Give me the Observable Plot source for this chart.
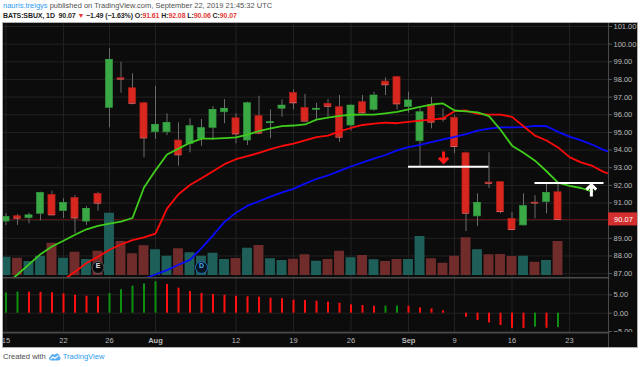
<!DOCTYPE html>
<html><head><meta charset="utf-8">
<script src="https://cdn.jsdelivr.net/npm/d3@7"></script>
<script src="https://cdn.jsdelivr.net/npm/@observablehq/plot@0.6"></script>
<style>
html,body{margin:0;padding:0}
body{width:640px;height:367px;overflow:hidden;background:#fff;position:relative;font-family:"Liberation Sans",Arial,sans-serif}
.hdr{position:absolute;left:3px;white-space:nowrap;line-height:10px}
#h1{top:1px;font-size:7.5px;color:#505050}
#h2{top:10.5px;font-size:7px;font-weight:bold;letter-spacing:-0.1px;color:#1e1e1e}
.blue{color:#2e9bf0}
.red{color:#e53935}
#frame{position:absolute;left:2px;top:22px;width:634px;height:324px;background:#0c0c0c;border:1px solid #b0b0b0}
.layer{position:absolute;left:0;top:0}
.layer svg{position:absolute;left:0;top:0}
#foot{position:absolute;left:3px;top:352px;font-size:7.6px;color:#4a4a4a;white-space:nowrap;display:flex;align-items:center;gap:2px}
</style></head><body>
<div id="h1" class="hdr"></div>
<div id="h2" class="hdr"></div>
<div id="frame">
 <div id="main" class="layer" style="width:634px;height:254px"></div>
 <div id="ind" class="layer" style="top:254px;width:634px;height:55px"></div>
 <div id="dax" class="layer" style="top:309px;width:634px;height:15px"></div>
</div>
<div id="foot">Created with <svg width="13" height="9" viewBox="0 0 13 9"><path d="M3 8.5 C0.5 8.5 0.2 5 2.6 4.6 C2.8 2 5.6 1.2 6.8 3 C7.8 0.6 11.6 1.2 11.3 4.2 C13.2 4.8 12.8 8.5 10.6 8.5 Z" fill="#5aaef2"/><path d="M2.5 7.2 L5 5 L7 6.3 L10.5 3.6" stroke="#fff" stroke-width="1.1" fill="none"/></svg><span class="blue">TradingView</span></div>
<script>
// ---------- data ----------
const author = "nauris.treigys";
const published = "September 22, 2019 21:45:32 UTC";
const symbol = "BATS:SBUX";
const interval = "1D";

// trading days 15 Jul 2019 .. 20 Sep 2019 (index 0..48)
const open  = [89.95,90.25,90.14,90.39,91.46,90.54,91.29,89.95,91.52,96.39,98.07,97.50,96.65,95.01,95.01,94.54,94.35,94.64,95.26,96.14,95.80,94.54,95.92,95.52,96.34,97.24,96.39,96.28,96.62,96.43,95.39,96.71,96.28,97.88,98.13,96.43,94.50,96.56,95.79,95.83,93.82,90.24,92.16,92.18,90.10,89.73,91.02,91.05,91.61];
const high  = [90.40,90.35,90.42,91.61,91.67,91.25,91.42,90.80,91.61,99.74,98.98,98.32,96.70,97.60,96.05,95.54,95.77,95.73,96.47,96.86,96.05,96.71,97.05,96.28,96.85,97.41,97.15,96.65,96.86,97.09,96.55,97.09,97.28,98.09,98.15,97.28,96.34,96.99,96.34,95.96,93.88,91.52,93.85,92.20,90.48,91.52,91.42,92.14,92.08];
const low   = [89.73,89.73,89.82,90.00,90.29,90.12,89.27,89.73,90.54,95.26,97.22,96.56,93.56,94.60,94.82,93.09,93.84,94.22,94.54,95.49,94.35,94.26,94.90,94.64,95.86,96.28,95.60,95.71,95.86,94.44,95.07,96.05,96.20,97.09,96.28,96.09,93.03,95.20,95.58,93.79,89.38,89.67,91.82,90.39,89.48,89.70,90.10,90.39,90.06];
const close = [90.20,90.14,90.30,91.56,90.33,91.00,90.16,90.67,90.99,99.11,98.02,96.65,94.69,95.43,95.54,93.73,95.35,95.24,96.28,96.34,94.92,96.65,94.96,95.58,96.52,96.68,95.64,96.34,96.48,94.73,96.52,96.11,97.09,97.70,96.62,96.81,96.14,95.58,95.76,94.20,90.42,91.01,92.12,90.52,89.50,90.82,91.00,91.56,90.07];
const volumeM = [7.3,6.9,5.6,7.7,12.9,6.9,9.3,6.4,9.7,24.9,13.6,8.7,11.9,10.3,7.7,10.7,9.1,7.7,8.9,6.4,6.8,10.9,12.0,6.7,6.0,6.5,8.3,5.7,6.4,9.7,7.1,8.0,6.3,5.6,6.4,6.4,15.6,6.7,4.9,7.7,15.1,10.3,8.3,8.4,7.6,7.7,5.3,6.0,13.6];

// displaced moving averages (start index, values)
const dmaGreenStart = 0;
const dmaGreen = [86.40,86.95,87.52,88.10,88.54,88.86,89.20,89.51,89.70,89.83,89.94,90.15,91.88,92.85,93.75,94.08,94.41,94.65,94.65,94.68,94.72,94.88,95.07,95.23,95.36,95.39,95.45,95.72,95.84,95.94,96.00,96.01,96.01,96.08,96.16,96.30,96.44,96.58,96.64,96.24,96.19,96.14,95.92,95.15,94.25,93.85,93.40,92.80,92.15,91.97,91.85,91.65];
const dmaRedStart = 5;
const dmaRed = [86.65,87.10,87.60,87.95,88.35,88.65,88.90,89.05,89.27,90.68,91.50,92.02,92.40,92.80,93.20,93.48,93.66,93.84,94.05,94.23,94.37,94.55,94.73,94.82,95.06,95.25,95.42,95.50,95.55,95.52,95.60,95.67,95.72,95.80,96.20,96.24,96.05,96.01,96.01,95.88,95.35,94.82,94.54,94.15,93.60,93.30,93.10,92.75,92.55];
const dmaBlueStart = 12;
const dmaBlue = [86.70,86.95,87.20,87.50,87.78,88.45,89.17,89.93,90.45,90.85,91.10,91.36,91.60,91.80,92.10,92.36,92.56,92.82,93.07,93.30,93.52,93.72,93.98,94.16,94.30,94.45,94.60,94.74,94.90,95.10,95.22,95.28,95.28,95.30,95.37,95.35,95.03,94.76,94.55,94.30,94.00,93.80];

// oscillator histogram
const osc = [5.50,5.75,5.72,5.70,5.56,5.29,4.90,4.63,4.47,5.37,6.37,7.36,8.00,8.55,7.82,6.82,5.90,5.37,5.10,4.90,4.63,4.47,4.36,4.09,3.95,3.54,3.46,3.27,3.00,2.72,2.27,2.10,1.88,1.92,1.95,1.90,1.45,1.18,0.64,0.00,-1.10,-2.00,-2.64,-3.36,-4.10,-4.15,-3.80,-4.10,-3.90];

// axes
const tickIdx = [0,5,9,13,20,25,30,35,39,44,49];
const tickLabels = ["15","22","26","Aug","12","19","26","Sep","9","16","23"];
const priceTicks = [87,88,89,90,91,92,93,94,95,96,97,98,99,100,101];
const oscTicks = [-5,0,5];

// drawings / events
const levelPrice = [93.05, 92.14];
const levelFrom = [35, 46];
const levelTo = [42, 52];
const arrowDownAt = [{i: 38.05, p: 93.58}];
const arrowUpAt = [{i: 50.9, p: 91.74}];
const eventIdx = [8, 17];
const eventLabel = ["E", "D"];

// ---------- header ----------
const N = close.length;
const last = close[N - 1], prev = close[N - 2];
const chg = last - prev, pct = chg / prev * 100;
const f2 = d3.format(".2f");
const fs = v => (v < 0 ? "\u2212" : "+") + f2(Math.abs(v));
document.getElementById("h1").innerHTML = `<span class="blue">${author}</span> published on TradingView.com, ${published}`;
document.getElementById("h2").innerHTML = `${symbol}, ${interval}&nbsp; ${f2(last)} <span class="red">${chg < 0 ? "\u25BC" : "\u25B2"}</span> ${fs(chg)} (${fs(pct)}%) O:<span class="red">${f2(open[N-1])}</span> H:<span class="red">${f2(high[N-1])}</span> L:<span class="red">${f2(low[N-1])}</span> C:<span class="red">${f2(last)}</span>`;

// ---------- tables ----------
const candles = d3.range(N).map(i => ({i, open: open[i], high: high[i], low: low[i], close: close[i], vol: volumeM[i], up: close[i] >= open[i]}));
const series = (start, vals) => vals.map((v, k) => ({i: start + k, v}));
const gLine = series(dmaGreenStart, dmaGreen);
const rLine = series(dmaRedStart, dmaRed);
const bLine = series(dmaBlueStart, dmaBlue);
const oscData = osc.map((v, i) => ({i, v, up: i === 0 || v > osc[i - 1]}));
const ticks = tickIdx.map((i, k) => ({i, label: tickLabels[k], month: isNaN(+tickLabels[k])}));
const levels = levelPrice.map((p, k) => ({p, from: levelFrom[k], to: levelTo[k]}));
const events = eventIdx.map((i, k) => ({i, label: eventLabel[k]}));

// ---------- styling ----------
const W = 634, MR = 29;
const xDomain = [-0.217, 52.39];
const yDomain = [86.78, 101.17];
const GRID = "#222222", SEP = "#4a4a4a", AXTXT = "#bcbcbc";
const CG = "#3aa845", CGs = "#2f8f3a", CR = "#d8271f", CRs = "#b01e17";
const VG = "#1e5f59", VR = "#702b2b";
const baseStyle = {background: "transparent", fontFamily: "'Liberation Sans', Arial, sans-serif", overflow: "hidden"};
const common = {width: W, margin: 0, marginRight: MR, style: baseStyle, color: {type: "identity"}};

const arrowSymbol = dir => ({
  draw(ctx, size) {
    const r = Math.sqrt(size / Math.PI), s = dir === "down" ? 1 : -1;
    ctx.moveTo(0, -s * r); ctx.lineTo(0, s * r * 0.8);
    ctx.moveTo(-0.75 * r, s * r * 0.05); ctx.lineTo(0, s * r * 0.8); ctx.lineTo(0.75 * r, s * r * 0.05);
  }
});

// grid + axis layer
const gridLayer = Plot.plot({...common, height: 254,
  x: {domain: xDomain, axis: null}, y: {domain: yDomain, label: null},
  marks: [
    Plot.ruleY(priceTicks, {stroke: GRID}),
    Plot.ruleX(tickIdx, {stroke: GRID}),
    Plot.ruleY([last], {stroke: "#5e1212"}),
    Plot.axisY(priceTicks, {anchor: "right", label: null, tickSize: 3, tickPadding: 2, tickFormat: f2, fontSize: 7.5, stroke: "#555", fill: AXTXT}),
    Plot.frame({anchor: "right", stroke: SEP})
  ]});

// volume layer
const volLayer = Plot.plot({...common, height: 254, marginBottom: 2,
  x: {domain: xDomain, axis: null}, y: {domain: [0, 100.8], axis: null},
  marks: [
    Plot.rect(candles, {x1: d => d.i - 0.43, x2: d => d.i + 0.43, y1: d => 0, y2: "vol", fill: d => d.up ? VG : VR, clip: true})
  ]});

// price layer
const priceLayer = Plot.plot({...common, height: 254,
  x: {domain: xDomain, axis: null}, y: {domain: yDomain, axis: null},
  marks: [
    Plot.ruleX(candles, {x: "i", y1: "low", y2: "high", stroke: "#6a6a6a", clip: true}),
    Plot.rect(candles, {x1: d => d.i - 0.31, x2: d => d.i + 0.31, y1: "open", y2: "close", fill: d => d.up ? CG : CR, stroke: d => d.up ? CGs : CRs, strokeWidth: 0.7, clip: true}),
    Plot.ruleY(candles, {x1: d => d.i - 0.31, x2: d => d.i + 0.31, y: "close", stroke: d => d.up ? CG : "#e06060", clip: true}),
    Plot.line(bLine, {x: "i", y: "v", stroke: "#0a0aff", strokeWidth: 1.8, clip: true}),
    Plot.line(rLine, {x: "i", y: "v", stroke: "#ff0a0a", strokeWidth: 1.8, clip: true}),
    Plot.line(gLine, {x: "i", y: "v", stroke: "#3fcc1c", strokeWidth: 1.8, clip: true}),
    Plot.ruleY(levels, {x1: "from", x2: "to", y: "p", stroke: "#ffffff", strokeWidth: 2}),
    Plot.dot(arrowDownAt, {x: "i", y: "p", r: 6, symbol: arrowSymbol("down"), fill: "none", stroke: "#ff1a1a", strokeWidth: 3}),
    Plot.dot(arrowUpAt, {x: "i", y: "p", r: 6.5, symbol: arrowSymbol("up"), fill: "none", stroke: "#ffffff", strokeWidth: 3}),
    Plot.dot(events, {x: "i", frameAnchor: "bottom", dy: -10, r: 6, fill: d => d.label === "E" ? "#0a0a0a" : "#08141f", stroke: d => d.label === "E" ? "#5a5a5a" : "#1e6fc0", strokeWidth: 1}),
    Plot.text(events, {x: "i", frameAnchor: "bottom", dy: -10, text: "label", fill: d => d.label === "E" ? "#e0e0e0" : "#42a5f5", fontSize: 7, fontWeight: "bold"}),
    Plot.rect([last], {x1: () => xDomain[1], x2: () => xDomain[1] + 2.7, y1: d => d - 0.37, y2: d => d + 0.37, fill: "#d32f2f"}),
    Plot.text([last], {x: () => xDomain[1], y: d => d, text: d => f2(d), dx: 15, fill: "#ffffff", fontSize: 7.5})
  ]});

for (const svg of [gridLayer, volLayer, priceLayer]) document.getElementById("main").appendChild(svg);

// oscillator pane
const indLayer = Plot.plot({...common, height: 55,
  x: {domain: xDomain, axis: null}, y: {domain: [-5.26, 9.73], label: null},
  marks: [
    Plot.ruleY(oscTicks, {stroke: GRID}),
    Plot.ruleX(tickIdx, {stroke: GRID}),
    Plot.ruleX(oscData, {x: "i", y1: d => 0, y2: "v", stroke: d => d.up ? "#0f8f0f" : "#ff1010", strokeWidth: 2}),
    Plot.axisY(oscTicks, {anchor: "right", label: null, tickSize: 3, tickPadding: 2, tickFormat: f2, fontSize: 7.5, stroke: "#555", fill: AXTXT}),
    Plot.frame({anchor: "top", stroke: SEP, strokeWidth: 2}),
    Plot.frame({anchor: "right", stroke: SEP})
  ]});
document.getElementById("ind").appendChild(indLayer);

// date axis
const dateLayer = Plot.plot({...common, height: 15,
  x: {domain: xDomain, axis: null}, y: {domain: [0, 1], axis: null},
  marks: [
    Plot.text(ticks.filter(d => !d.month), {x: "i", text: "label", frameAnchor: "middle", dy: 1, fill: AXTXT, fontSize: 7.5}),
    Plot.text(ticks.filter(d => d.month), {x: "i", text: "label", frameAnchor: "middle", dy: 1, fill: AXTXT, fontSize: 7.5, fontWeight: "bold"}),
    Plot.frame({anchor: "top", stroke: SEP, strokeWidth: 2}),
    Plot.frame({anchor: "right", stroke: SEP})
  ]});
document.getElementById("dax").appendChild(dateLayer);
</script>
</body></html>
